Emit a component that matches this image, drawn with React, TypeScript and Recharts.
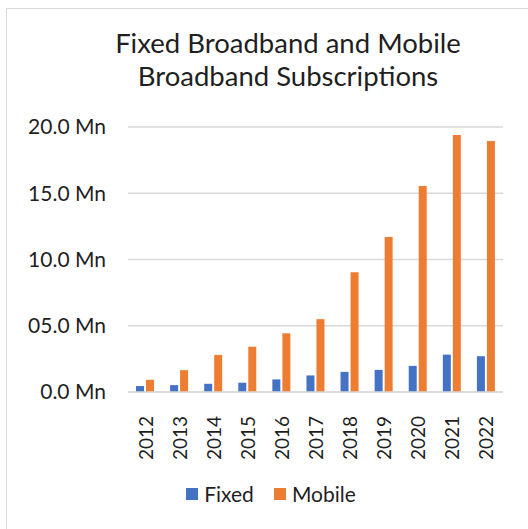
import { Bar, BarChart, CartesianGrid, Legend, XAxis, YAxis } from "recharts";

const YEARS = ["2012", "2013", "2014", "2015", "2016", "2017", "2018", "2019", "2020", "2021", "2022"];
const FIXED = [0.45, 0.52, 0.62, 0.7, 0.95, 1.25, 1.52, 1.67, 1.97, 2.82, 2.7];
const MOBILE = [0.92, 1.65, 2.8, 3.42, 4.43, 5.5, 9.03, 11.7, 15.55, 19.4, 18.95];
const Y_TICKS = [0, 5, 10, 15, 20];
const Y_LABELS = ["0.0 Mn", "05.0 Mn", "10.0 Mn", "15.0 Mn", "20.0 Mn"];

const FONT = "Lato, 'Noto Sans', sans-serif";
const TEXT = "#1f1f1f";

const data = YEARS.map((year, i) => ({ year, Fixed: FIXED[i], Mobile: MOBILE[i] }));

function YearTick({ x, y, payload }: any) {
  return (
    <text
      x={x}
      y={y + 16}
      transform={`rotate(-90, ${x}, ${y + 16})`}
      textAnchor="end"
      dominantBaseline="central"
      fill={TEXT}
      fontSize={19}
      fontFamily={FONT}
    >
      {payload.value}
    </text>
  );
}

function LegendBox({ payload }: any) {
  return (
    <div style={{ display: "flex", justifyContent: "center", fontFamily: FONT, fontSize: 21, color: TEXT }}>
      {(payload || []).map((p: any, i: number) => (
        <div key={p.value} style={{ display: "flex", alignItems: "center", marginLeft: i ? 20 : 0 }}>
          <span style={{ width: 12, height: 12, background: p.color, marginRight: 6, display: "inline-block" }} />
          <span>{p.value}</span>
        </div>
      ))}
    </div>
  );
}

export default function App() {
  return (
    <div style={{ position: "absolute", left: 0, top: 0, width: 528, height: 529, overflow: "hidden", background: "#fff" }}>
      <div
        style={{
          position: "absolute",
          left: 6,
          top: 8,
          width: 600,
          height: 600,
          borderLeft: "1.5px solid #d9d9d9",
          borderTop: "1.5px solid #d9d9d9",
        }}
      />
      <div
        style={{
          position: "absolute",
          left: 48,
          top: 26,
          width: 480,
          textAlign: "center",
          fontFamily: FONT,
          fontSize: 27.5,
          lineHeight: "33px",
          color: TEXT,
        }}
      >
        Fixed Broadband and Mobile
        <br />
        Broadband Subscriptions
      </div>
      <div style={{ position: "absolute", left: 0, top: 0 }}>
        <BarChart
          width={528}
          height={529}
          data={data}
          margin={{ top: 127, right: 25, left: 8, bottom: 42 }}
          barGap={2}
          barSize={8}
        >
          <CartesianGrid vertical={false} stroke="#d9d9d9" strokeWidth={1.5} />
          <XAxis
            dataKey="year"
            tick={<YearTick />}
            tickLine={false}
            axisLine={{ stroke: "#d9d9d9", strokeWidth: 1.5 }}
            interval={0}
            height={70}
          />
          <YAxis
            domain={[0, 20]}
            ticks={Y_TICKS}
            tickFormatter={(v: number) => Y_LABELS[Y_TICKS.indexOf(v)]}
            tick={{ fill: TEXT, fontSize: 21, fontFamily: FONT }}
            axisLine={false}
            tickLine={false}
            tickSize={0}
            tickMargin={22}
            width={120}
          />
          <Legend
            content={<LegendBox />}
            wrapperStyle={{ top: 481, left: 0, width: 542 }}
          />
          <Bar dataKey="Fixed" fill="#4472C4" isAnimationActive={false} />
          <Bar dataKey="Mobile" fill="#ED7D31" isAnimationActive={false} />
        </BarChart>
      </div>
    </div>
  );
}
